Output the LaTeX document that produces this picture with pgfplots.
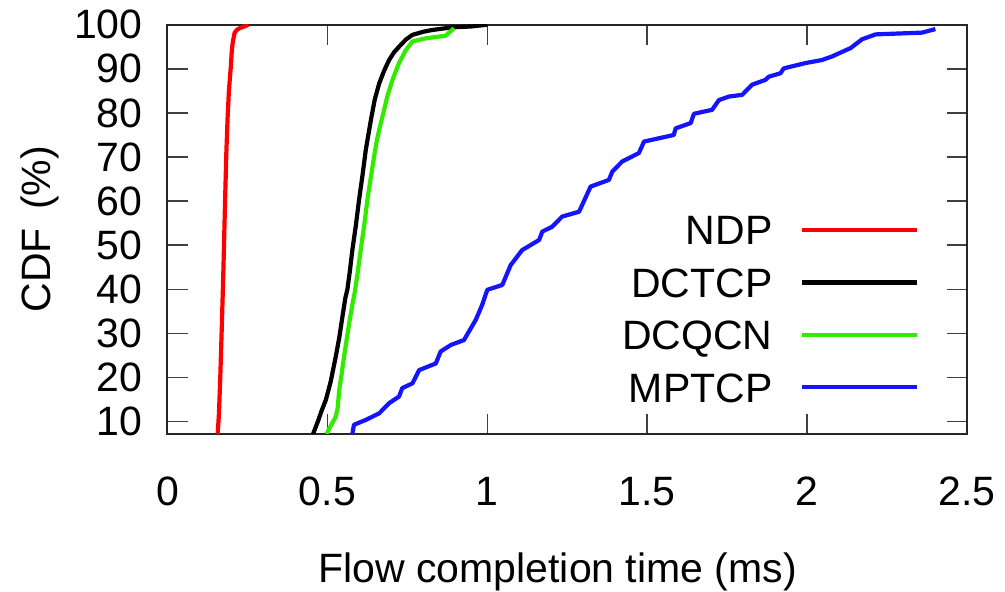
\documentclass[border=0pt]{standalone}
\usepackage{fontspec}
\setmainfont{Liberation Sans}
\usepackage{pgfplots}
\pgfplotsset{compat=1.18}
\definecolor{gpred}{RGB}{255,0,0}
\definecolor{gpgreen}{RGB}{50,235,0}
\definecolor{gpblue}{RGB}{20,20,255}
\pgfplotsset{mylegimg/.style={legend image code/.code={\draw[##1] (0pt,0pt) -- (57.5pt,0pt);}}}
\begin{document}
\begin{tikzpicture}[font=\fontsize{20.5pt}{24pt}\selectfont]
\begin{axis}[
  name=ax, at={(0,0)}, anchor=south west,
  scale only axis, width=399.75pt, height=204.65pt,
  xmin=0, xmax=2.5, ymin=7.21, ymax=100,
  xtick={0,0.5,1,1.5,2,2.5}, ytick={10,20,30,40,50,60,70,80,90,100},
  /pgf/number format/assume math mode=true,
  tick align=inside, major tick length=10pt,
  tick style={line width=0.8pt, color=black!75},
  axis line style={line width=1pt, color=black!85},
  xticklabel style={anchor=base, yshift=-36pt, inner sep=0pt},
  yticklabel style={anchor=east, xshift=-12.25pt, inner sep=0pt},
  xlabel={Flow completion time (ms)},
  ylabel={CDF\hspace{0.45em}(\%)},
  xlabel style={at={(axis description cs:0.488,-0.336)}, anchor=center},
  ylabel style={at={(axis description cs:-0.1595,0.5)}, anchor=center, rotate=0},
  legend plot pos=right, legend cell align=right,
  legend style={at={(rel axis cs:0.940,0.535)}, anchor=north east, draw=none, fill=none,
    inner sep=0pt, row sep=11.5pt, column sep=13.5pt,
    nodes={inner sep=0pt, text height=14.7pt, text depth=0pt}},
  mylegimg,
  every axis plot/.append style={line width=2.1pt, line join=round},
]
\addplot[gpred] coordinates {(0.157,7.2) (0.161,12) (0.165,20) (0.170,32) (0.175,45) (0.180,60) (0.184,71) (0.188,79) (0.192,85) (0.198,90.5) (0.201,94) (0.204,96) (0.210,98.2) (0.218,98.9) (0.229,99.3) (0.240,99.6) (0.253,100)};
\addlegendentry{NDP}
\addplot[black] coordinates {(0.455,7.2) (0.47,10) (0.482,12.5) (0.495,14.9) (0.51,19) (0.526,24.7) (0.537,29) (0.547,33.8) (0.556,38) (0.5625,40) (0.57,44) (0.578,48.9) (0.589,54.5) (0.599,60.3) (0.61,66) (0.62,71.6) (0.636,78.4) (0.648,83) (0.662,86.7) (0.677,89.5) (0.693,92) (0.708,93.7) (0.724,95) (0.745,96.6) (0.766,97.7) (0.80,98.4) (0.828,98.8) (0.89,99.4) (0.95,99.6) (1.0,100)};
\addlegendentry{DCTCP}
\addplot[gpgreen] coordinates {(0.497,7.2) (0.51,9) (0.526,11.1) (0.532,13) (0.537,17.2) (0.545,21) (0.552,24.7) (0.56,28.5) (0.568,32.3) (0.578,36.5) (0.586,39.5) (0.595,44) (0.604,48.9) (0.615,54.5) (0.625,60.3) (0.635,65) (0.646,70.1) (0.654,73.5) (0.662,76.2) (0.675,80) (0.6875,83.8) (0.705,87.8) (0.724,91.3) (0.745,94.2) (0.766,96.2) (0.807,96.9) (0.87,97.5) (0.882,98.3) (0.896,99.2)};
\addlegendentry{DCQCN}
\addplot[gpblue] coordinates {(0.578,7.2) (0.583,9.3) (0.62,10.4) (0.662,11.9) (0.693,14.2) (0.724,15.7) (0.734,17.6) (0.766,18.7) (0.787,21.7) (0.839,23.2) (0.854,25.9) (0.886,27.4) (0.927,28.5) (0.964,33.1) (0.984,36.5) (1.0,39.9) (1.047,41.0) (1.073,45.5) (1.109,48.9) (1.162,51.2) (1.172,53.1) (1.203,54.2) (1.234,56.5) (1.287,57.6) (1.323,63.3) (1.380,64.8) (1.391,66.7) (1.422,69.0) (1.474,70.9) (1.49,73.5) (1.583,75.0) (1.589,76.5) (1.636,77.7) (1.646,79.8) (1.703,80.7) (1.724,82.9) (1.755,83.7) (1.797,84.1) (1.828,86.4) (1.87,87.5) (1.88,88.2) (1.917,89.0) (1.927,90.1) (1.995,91.3) (2.047,92.0) (2.078,92.8) (2.099,93.5) (2.136,94.7) (2.172,96.7) (2.214,97.8) (2.286,98.0) (2.359,98.2) (2.401,99.0)};
\addlegendentry{MPTCP}
\end{axis}
\pgfresetboundingbox
\path (ax.south west) ++(-83.75pt,-79pt) rectangle ++(502.5pt,296pt);
\end{tikzpicture}
\end{document}
